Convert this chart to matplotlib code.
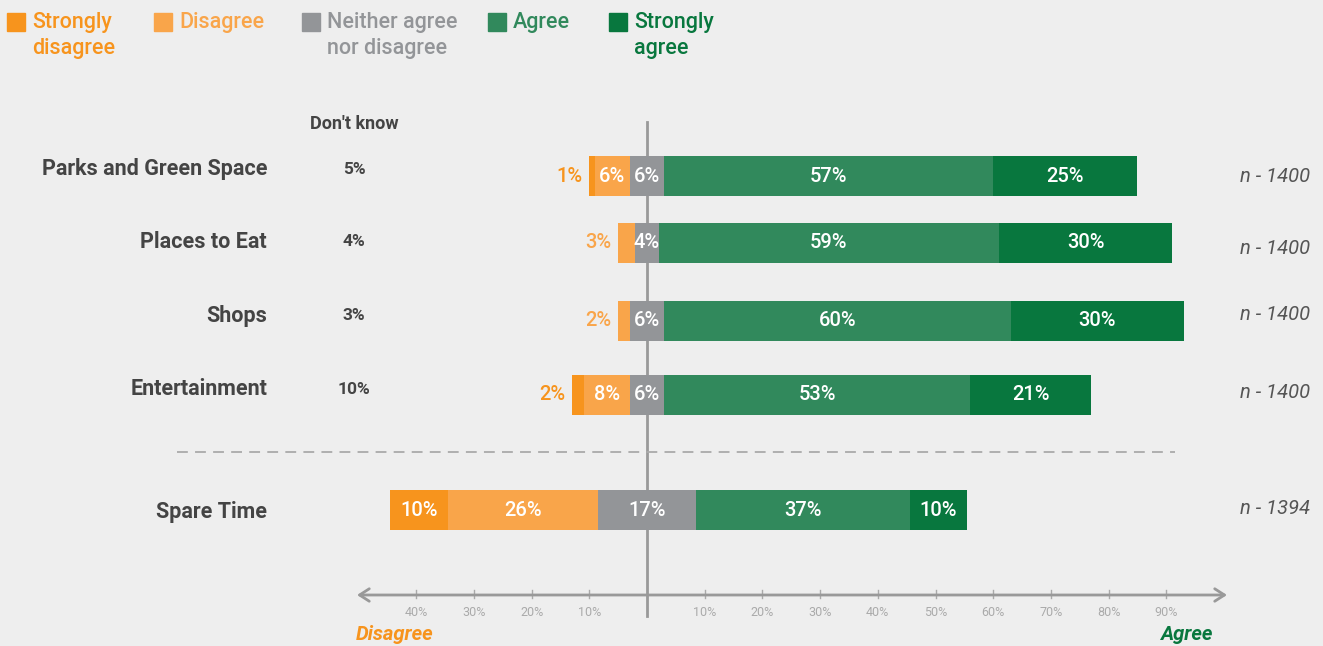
import matplotlib.pyplot as plt
from matplotlib.patches import Rectangle

plt.rcParams['font.family'] = ['Roboto', 'DejaVu Sans']

# Data
categories = ['Parks and Green Space', 'Places to Eat', 'Shops', 'Entertainment', 'Spare Time']
strongly_disagree = [1, 0, 0, 2, 10]
disagree = [6, 3, 2, 8, 26]
neutral = [6, 4, 6, 6, 17]
agree = [57, 59, 60, 53, 37]
strongly_agree = [25, 30, 30, 21, 10]
dont_know = [5, 4, 3, 10, None]
n_sizes = [1400, 1400, 1400, 1400, 1394]

legend_labels = ['Strongly\ndisagree', 'Disagree', 'Neither agree\nnor disagree', 'Agree', 'Strongly\nagree']
left_ticks = [10, 20, 30, 40]
right_ticks = [10, 20, 30, 40, 50, 60, 70, 80, 90]

# Colours
C_SD = '#F7941D'
C_D = '#F9A54A'
C_N = '#939598'
C_A = '#31895C'
C_SA = '#08773E'
BG = '#EEEEEE'
DARK = '#444444'

# Layout (pixels)
W, H = 1323, 646
CENTER = 647
PX_PCT = 5.77
row_y = [176, 243, 321, 395, 510]
label_y = [169, 242, 316, 389, 512]
n_y = [176, 248, 314, 393, 509]
BAR_H = 40


def px(x):
    return (x - CENTER) / PX_PCT


fig = plt.figure(figsize=(W / 100, H / 100), dpi=100, facecolor=BG)
ax = fig.add_axes([0, 0, 1, 1])
ax.set_facecolor(BG)
ax.set_xlim(px(0), px(W))
ax.set_ylim(H, 0)
ax.axis('off')

# centre line
ax.plot([0, 0], [122, 616], color='#999999', lw=2, zorder=1)

for i, cat in enumerate(categories):
    y = row_y[i]
    half = neutral[i] / 2
    segs = [
        (-half - disagree[i] - strongly_disagree[i], strongly_disagree[i], C_SD),
        (-half - disagree[i], disagree[i], C_D),
        (-half, neutral[i], C_N),
        (half, agree[i], C_A),
        (half + agree[i], strongly_agree[i], C_SA),
    ]
    bar_left = segs[0][0]
    for left, val, col in segs:
        if val <= 0:
            continue
        ax.barh(y, val, left=left, height=BAR_H, color=col, zorder=2)
        if val >= 4:
            ax.text(left + val / 2, y, f'{val}%', ha='center', va='center',
                    color='white', fontsize=14.5, fontweight='medium', zorder=3)
        else:
            ax.text(bar_left - 1.2, y, f'{val}%', ha='right', va='center',
                    color=col, fontsize=14.5, fontweight='medium', zorder=3)

    ax.text(px(267), label_y[i], cat, ha='right', va='center', color=DARK,
            fontsize=15.5, fontweight='bold')
    if dont_know[i] is not None:
        ax.text(px(354), label_y[i], f'{dont_know[i]}%', ha='center', va='center',
                color=DARK, fontsize=12.5, fontweight='bold')
    ax.text(px(1310), n_y[i], f'n - {n_sizes[i]}', ha='right', va='center',
            color='#555555', fontsize=14.5, style='italic')

ax.text(px(354), 124, "Don't know", ha='center', va='center', color=DARK,
        fontsize=13, fontweight='bold')

# separator
ax.plot([px(177), px(1175)], [452, 452], color='#AAAAAA', lw=1.3,
        dashes=(6, 4), zorder=1)

# bottom axis with arrows
ax.annotate('', xy=(px(1227), 595), xytext=(px(357), 595),
            arrowprops=dict(arrowstyle='<->,head_length=0.7,head_width=0.45',
                            color='#999999', lw=2, shrinkA=0, shrinkB=0))
for t in left_ticks:
    ax.plot([-t, -t], [590, 598], color='#AAAAAA', lw=1)
    ax.text(-t, 612, f'{t}%', ha='center', va='center', color='#AAAAAA', fontsize=9)
for t in right_ticks:
    ax.plot([t, t], [590, 598], color='#AAAAAA', lw=1)
    ax.text(t, 612, f'{t}%', ha='center', va='center', color='#AAAAAA', fontsize=9)

ax.text(px(356), 635, 'Disagree', ha='left', va='center', color=C_SD,
        fontsize=14.5, fontweight='bold', style='italic')
ax.text(px(1212), 635, 'Agree', ha='right', va='center', color=C_SA,
        fontsize=14.5, fontweight='bold', style='italic')

# legend
legend_x = [7, 154, 302, 488, 609]
legend_cols = [C_SD, C_D, C_N, C_A, C_SA]
for lx, lab, col in zip(legend_x, legend_labels, legend_cols):
    ax.add_patch(Rectangle((px(lx), 13), 18 / PX_PCT, 18, color=col, clip_on=False))
    ax.text(px(lx + 25), 12, lab, ha='left', va='top', color=col, fontsize=15.5,
            fontweight='medium', linespacing=1.3)

fig.savefig('out.png', dpi=100, facecolor=BG)
